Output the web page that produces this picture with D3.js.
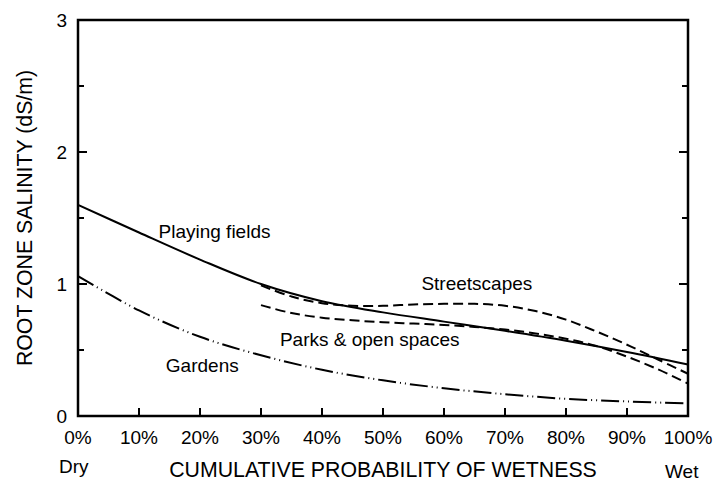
<!DOCTYPE html>
<html>
<head>
<meta charset="utf-8">
<script src="https://cdn.jsdelivr.net/npm/d3@7"></script>
<style>
  html, body { margin: 0; padding: 0; background: #fff; }
  svg { display: block; font-family: "Liberation Sans", Arial, Helvetica, sans-serif; }
</style>
</head>
<body>
<svg id="chart" width="715" height="490"></svg>
<script>
// Cumulative probability of wetness (%) and root zone salinity (dS/m)
const pctFull = [0, 10, 20, 30, 40, 50, 60, 70, 80, 90, 100];
const pctPart = [30, 35, 40, 45, 50, 55, 60, 65, 70, 75, 80, 85, 90, 95, 100];

const playingFields = [1.60, 1.39, 1.185, 1.00, 0.87, 0.785, 0.715, 0.645, 0.57, 0.485, 0.39];
const gardens       = [1.06, 0.80, 0.60, 0.46, 0.35, 0.27, 0.21, 0.165, 0.13, 0.11, 0.095];
const streetscapes  = [0.99, 0.905, 0.855, 0.835, 0.835, 0.845, 0.85, 0.85, 0.835, 0.795, 0.73, 0.64, 0.54, 0.43, 0.32];
const parks         = [0.84, 0.78, 0.745, 0.725, 0.71, 0.70, 0.69, 0.675, 0.655, 0.625, 0.585, 0.53, 0.45, 0.355, 0.245];

const xTicks = [0, 10, 20, 30, 40, 50, 60, 70, 80, 90, 100];
const yMajor = [0, 1, 2, 3];
const yMinor = [0.5, 1.5, 2.5];

const series = [
  { name: "Playing fields", x: pctFull, y: playingFields, dash: null },
  { name: "Gardens", x: pctFull, y: gardens, dash: "18,4,1,4,1,4" },
  { name: "Streetscapes", x: pctPart, y: streetscapes, dash: "10,5" },
  { name: "Parks & open spaces", x: pctPart, y: parks, dash: "10,5" }
];

const labels = [
  { text: "Playing fields", x: 13.2, y: 1.35 },
  { text: "Streetscapes", x: 56.3, y: 0.955 },
  { text: "Parks & open spaces", x: 33.1, y: 0.53 },
  { text: "Gardens", x: 14.4, y: 0.33 }
];

const svg = d3.select("#chart");
const plotL = 78, plotR = 688, plotT = 20, plotB = 416;

const x = d3.scaleLinear().domain([0, 100]).range([plotL, plotR]);
const y = d3.scaleLinear().domain([0, 3]).range([plotB, plotT]);

// curves
const line = d3.line().curve(d3.curveCatmullRom.alpha(0.5));
series.forEach(s => {
  const pts = s.x.map((v, i) => [x(v), y(s.y[i])]);
  svg.append("path")
    .attr("d", line(pts))
    .attr("fill", "none")
    .attr("stroke", "#000")
    .attr("stroke-width", 2)
    .attr("stroke-dasharray", s.dash);
});

// frame
svg.append("rect")
  .attr("x", plotL).attr("y", plotT)
  .attr("width", plotR - plotL).attr("height", plotB - plotT)
  .attr("fill", "none").attr("stroke", "#000").attr("stroke-width", 2.5);

// y ticks on both sides, pointing inward
const tickG = svg.append("g").attr("stroke", "#000").attr("stroke-width", 2);
yMajor.concat(yMinor).forEach(v => {
  const len = yMajor.includes(v) ? 9 : 6;
  tickG.append("line").attr("x1", plotL).attr("x2", plotL + len).attr("y1", y(v)).attr("y2", y(v));
  tickG.append("line").attr("x1", plotR).attr("x2", plotR - len).attr("y1", y(v)).attr("y2", y(v));
});

// x ticks along the bottom, pointing inward
xTicks.forEach(v => {
  tickG.append("line").attr("x1", x(v)).attr("x2", x(v)).attr("y1", plotB).attr("y2", plotB - 8);
});

// tick labels
svg.append("g").selectAll("text").data(yMajor).join("text")
  .attr("x", 67).attr("y", d => y(d)).attr("dy", "0.35em")
  .attr("text-anchor", "end").attr("font-size", 19).text(d => d);

svg.append("g").selectAll("text").data(xTicks).join("text")
  .attr("x", d => x(d)).attr("y", 444)
  .attr("text-anchor", "middle").attr("font-size", 19).text(d => d + "%");

// axis titles
svg.append("text")
  .attr("transform", `translate(32, ${(plotT + plotB) / 2}) rotate(-90)`)
  .attr("text-anchor", "middle").attr("font-size", 21.3)
  .text("ROOT ZONE SALINITY (dS/m)");

svg.append("text")
  .attr("x", (plotL + plotR) / 2).attr("y", 477)
  .attr("text-anchor", "middle").attr("font-size", 21.3)
  .text("CUMULATIVE PROBABILITY OF WETNESS");

svg.append("text").attr("x", 59).attr("y", 473).attr("font-size", 19).text("Dry");
svg.append("text").attr("x", 665).attr("y", 478).attr("font-size", 19).text("Wet");

// curve labels
svg.append("g").selectAll("text").data(labels).join("text")
  .attr("x", d => x(d.x)).attr("y", d => y(d.y))
  .attr("font-size", 19).text(d => d.text);
</script>
</body>
</html>
